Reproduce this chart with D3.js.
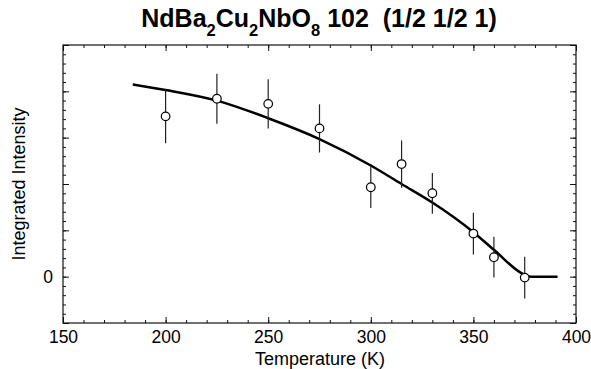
<!DOCTYPE html>
<html>
<head>
<meta charset="utf-8">
<script src="https://cdn.jsdelivr.net/npm/d3@7"></script>
<style>
body { margin: 0; background: #fff; }
text { font-family: "Liberation Sans", Arial, sans-serif; fill: #000; }
</style>
</head>
<body>
<script>
// measured points (temperature in K, integrated intensity, error)
const temps = [200, 225, 250, 275, 300, 315, 330, 350, 360, 375];
const intensity = [3.46, 3.84, 3.73, 3.20, 1.93, 2.43, 1.80, 0.93, 0.42, -0.02];
const errs = [0.58, 0.54, 0.53, 0.52, 0.45, 0.51, 0.44, 0.45, 0.44, 0.45];

// fitted curve
const fitT = [184, 200, 225, 250, 275, 300, 315, 330, 350, 360, 375, 378, 391];
const fitI = [4.15, 4.03, 3.80, 3.42, 2.97, 2.40, 2.00, 1.60, 0.96, 0.58, 0.04, 0, 0];

const xMajor = [150, 200, 250, 300, 350, 400];

const wSvg = 591, hSvg = 369;
const pLeft = 63, pRight = 576, pTop = 45, pBottom = 323;

const svg = d3.select("body").append("svg")
    .attr("width", wSvg)
    .attr("height", hSvg);

const xScale = d3.scaleLinear([150, 400], [pLeft, pRight]);
const yScale = d3.scaleLinear([-1, 5], [pBottom, pTop]);

const xMinorTicks = d3.range(150, 401, 10);
const yMinorTicks = d3.range(-1, 5.001, 0.2);
const yMajorTicks = d3.range(-1, 6, 1);

function styleAxis(g) {
    g.select(".domain").remove();
    g.selectAll("line").attr("stroke", "#111");
    g.selectAll("text").attr("font-size", 17.5).attr("font-family", "Liberation Sans, Arial, sans-serif");
}

// bottom
svg.append("g").attr("transform", `translate(0,${pBottom})`)
    .call(d3.axisBottom(xScale).tickValues(xMinorTicks).tickSize(-3).tickFormat(""))
    .call(styleAxis);
svg.append("g").attr("transform", `translate(0,${pBottom})`)
    .call(d3.axisBottom(xScale).tickValues(xMajor).tickSize(-6).tickPadding(8).tickFormat(d3.format("d")))
    .call(styleAxis);
// top
svg.append("g").attr("transform", `translate(0,${pTop})`)
    .call(d3.axisTop(xScale).tickValues(xMinorTicks).tickSize(-3).tickFormat(""))
    .call(styleAxis);
svg.append("g").attr("transform", `translate(0,${pTop})`)
    .call(d3.axisTop(xScale).tickValues(xMajor).tickSize(-6).tickFormat(""))
    .call(styleAxis);
// left
svg.append("g").attr("transform", `translate(${pLeft},0)`)
    .call(d3.axisLeft(yScale).tickValues(yMinorTicks).tickSize(-3).tickFormat(""))
    .call(styleAxis);
svg.append("g").attr("transform", `translate(${pLeft},0)`)
    .call(d3.axisLeft(yScale).tickValues(yMajorTicks).tickSize(-6).tickPadding(10)
        .tickFormat(d => d === 0 ? "0" : ""))
    .call(styleAxis);
// right
svg.append("g").attr("transform", `translate(${pRight},0)`)
    .call(d3.axisRight(yScale).tickValues(yMinorTicks).tickSize(-3).tickFormat(""))
    .call(styleAxis);
svg.append("g").attr("transform", `translate(${pRight},0)`)
    .call(d3.axisRight(yScale).tickValues(yMajorTicks).tickSize(-6).tickFormat(""))
    .call(styleAxis);

// frame
svg.append("rect")
    .attr("x", pLeft).attr("y", pTop)
    .attr("width", pRight - pLeft).attr("height", pBottom - pTop)
    .attr("fill", "none").attr("stroke", "#111").attr("stroke-width", 1.2);

// fit curve
const fitData = fitT.map((t, i) => ({ t: t, v: fitI[i] }));
const lineMaker = d3.line()
    .x(d => xScale(d.t))
    .y(d => yScale(d.v))
    .curve(d3.curveMonotoneX);
svg.append("path")
    .datum(fitData)
    .attr("d", lineMaker)
    .attr("fill", "none")
    .attr("stroke", "#000")
    .attr("stroke-width", 2.5);

// data points with error bars
const pts = temps.map((t, i) => ({ t: t, v: intensity[i], e: errs[i] }));
svg.append("g").selectAll("line")
    .data(pts).enter()
    .append("line")
    .attr("x1", d => xScale(d.t)).attr("x2", d => xScale(d.t))
    .attr("y1", d => yScale(d.v - d.e)).attr("y2", d => yScale(d.v + d.e))
    .attr("stroke", "#222").attr("stroke-width", 1.2);
svg.append("g").selectAll("circle")
    .data(pts).enter()
    .append("circle")
    .attr("cx", d => xScale(d.t)).attr("cy", d => yScale(d.v))
    .attr("r", 4.3)
    .attr("fill", "#fff").attr("stroke", "#000").attr("stroke-width", 1.2);

// axis titles
svg.append("text")
    .attr("x", 320).attr("y", 365)
    .attr("text-anchor", "middle").attr("font-size", 18)
    .text("Temperature (K)");
svg.append("text")
    .attr("transform", `translate(25,${184}) rotate(-90)`)
    .attr("text-anchor", "middle").attr("font-size", 18)
    .text("Integrated Intensity");

// title with subscripts
const title = svg.append("text")
    .attr("x", 319).attr("y", 27)
    .attr("text-anchor", "middle")
    .attr("font-size", 25).attr("font-weight", "bold")
    .attr("style", "white-space: pre");
const parts = [["NdBa", false], ["2", true], ["Cu", false], ["2", true], ["NbO", false], ["8", true], [" 102  (1/2 1/2 1)", false]];
let shift = 0;
for (let p of parts) {
    const want = p[1] ? 9 : 0;
    title.append("tspan")
        .attr("dy", want - shift)
        .attr("font-size", p[1] ? 16.5 : 25)
        .text(p[0]);
    shift = want;
}
</script>
</body>
</html>
